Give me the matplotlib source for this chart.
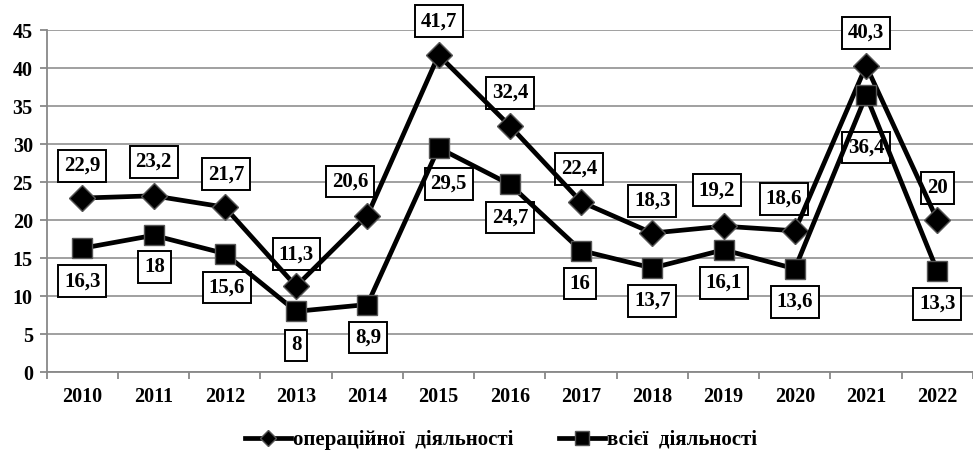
import numpy as np
import matplotlib.pyplot as plt
from matplotlib.lines import Line2D

plt.rcParams['font.family'] = ['Liberation Serif', 'DejaVu Serif']
plt.rcParams['font.weight'] = 'bold'

years = ['2010', '2011', '2012', '2013', '2014', '2015', '2016',
         '2017', '2018', '2019', '2020', '2021', '2022']
oper = [22.9, 23.2, 21.7, 11.3, 20.6, 41.7, 32.4, 22.4, 18.3, 19.2, 18.6, 40.3, 20]
total = [16.3, 18, 15.6, 8, 8.9, 29.5, 24.7, 16, 13.7, 16.1, 13.6, 36.4, 13.3]
oper_lbl = ['22,9', '23,2', '21,7', '11,3', '20,6', '41,7', '32,4', '22,4',
            '18,3', '19,2', '18,6', '40,3', '20']
total_lbl = ['16,3', '18', '15,6', '8', '8,9', '29,5', '24,7', '16',
             '13,7', '16,1', '13,6', '36,4', '13,3']
series_names = ['операційної  діяльності', 'всієї  діяльності']

# label offsets in pixels (dx, dy)
oper_off = [(0, 32), (0, 34), (1, 33), (0, 32), (-17, 34), (0, 34), (0, 33),
            (-2, 33), (0, 32), (-7, 36), (-11, 32), (0, 33), (0, 32)]
total_off = [(0, -33), (1, -32), (2, -34), (0, -34), (1, -33), (10, -36), (0, -33),
             (-1, -33), (0, -33), (0, -33), (0, -33), (0, -52), (0, -33)]

fig = plt.figure(figsize=(9.73, 4.55), dpi=100)
ax = fig.add_axes([0.048, 0.182, 0.952, 0.752])

x = np.arange(len(years))
ax.plot(x, oper, color='black', lw=3.4, marker='D', markersize=13,
        markerfacecolor='black', markeredgecolor='#555555', markeredgewidth=1,
        zorder=5)
ax.plot(x, total, color='black', lw=3.4, marker='s', markersize=15,
        markerfacecolor='black', markeredgecolor='#555555', markeredgewidth=1,
        zorder=5)

box = dict(boxstyle='square,pad=0.28', facecolor='white', edgecolor='black', lw=1.4)
for i in range(len(years)):
    ax.annotate(oper_lbl[i], (x[i], oper[i]), xytext=oper_off[i],
                textcoords='offset pixels', ha='center', va='center',
                fontsize=15, fontweight='bold', bbox=box, zorder=3)
    ax.annotate(total_lbl[i], (x[i], total[i]), xytext=total_off[i],
                textcoords='offset pixels', ha='center', va='center',
                fontsize=15, fontweight='bold', bbox=box, zorder=3)

ax.set_xlim(-0.5, len(years) - 0.5)
ax.set_ylim(0, 45)
ax.set_yticks(np.arange(0, 46, 5))
ax.set_xticks(x)
ax.set_xticklabels(years)
ax.set_xticks(np.arange(-0.5, len(years), 1), minor=True)
ax.tick_params(axis='x', which='major', length=0, pad=11, labelsize=14.5)
ax.tick_params(axis='x', which='minor', length=5, color='#888888', width=1.3)
ax.tick_params(axis='y', length=5, color='#888888', width=1.3, labelsize=14.5, pad=5)
for lab in ax.get_xticklabels() + ax.get_yticklabels():
    lab.set_fontweight('bold')

ax.grid(axis='y', color='#999999', lw=1.3)
ax.set_axisbelow(True)
for s in ['top', 'right']:
    ax.spines[s].set_visible(False)
for s in ['left', 'bottom']:
    ax.spines[s].set_color('#888888')
    ax.spines[s].set_linewidth(1.3)

handles = [Line2D([], [], color='black', lw=3.4, marker='D', markersize=8,
                  markeredgecolor='#555555'),
           Line2D([], [], color='black', lw=3.4, marker='s', markersize=10,
                  markeredgecolor='#555555')]
leg = fig.legend(handles, series_names, loc='center', ncol=2, frameon=False,
                 bbox_to_anchor=(0.515, 0.033),
                 prop={'family': 'Liberation Serif', 'weight': 'bold', 'size': 15},
                 handlelength=2.2, columnspacing=2.2, handletextpad=0.1)

fig.savefig('out.png', dpi=100)
